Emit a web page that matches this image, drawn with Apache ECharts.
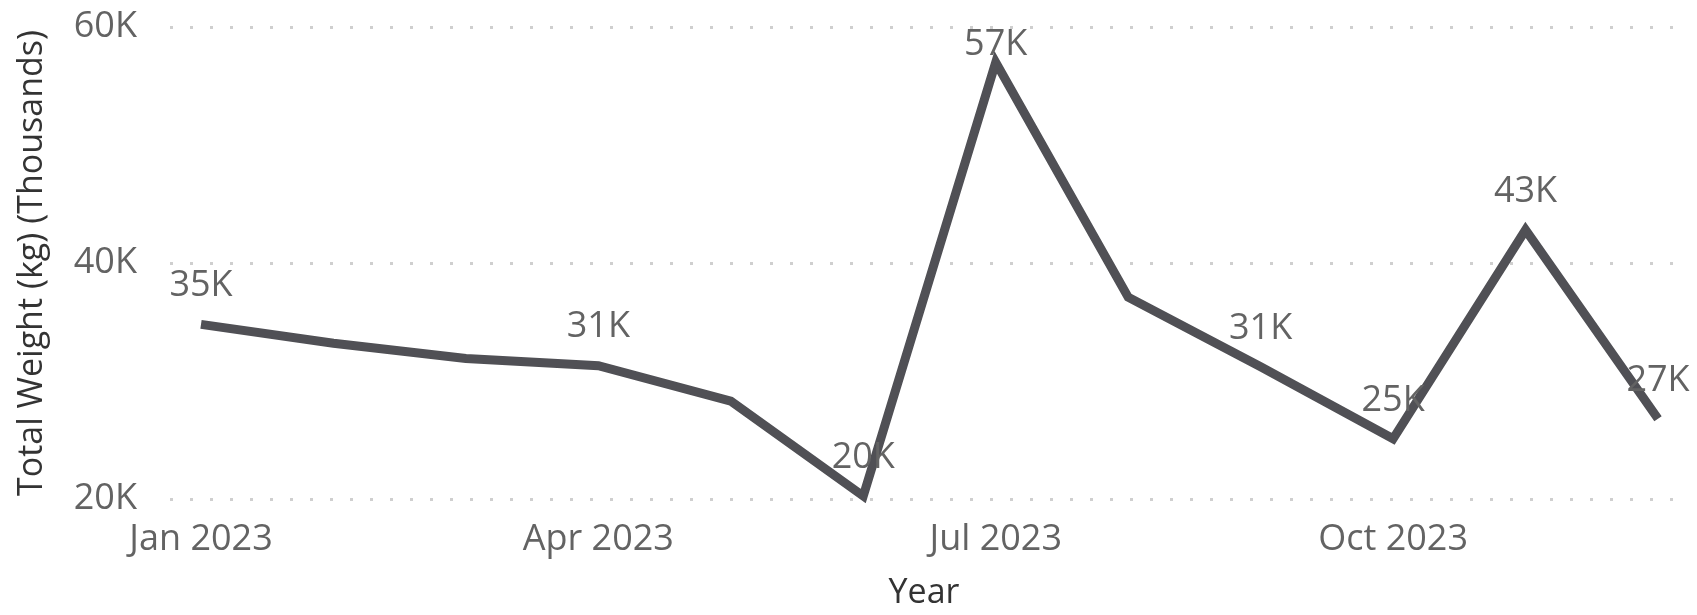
<!DOCTYPE html>
<html>
<head>
<meta charset="utf-8">
<title>Total Weight by Month</title>
<script src="https://cdn.jsdelivr.net/npm/echarts@6/dist/echarts.min.js"></script>
<style>
  html, body { margin: 0; padding: 0; background: #ffffff; }
  #chart { width: 1697px; height: 615px; }
</style>
</head>
<body>
<div id="chart"></div>
<script>
// Monthly totals for 2023, in thousands of kg
const months = ['Jan 2023', 'Feb 2023', 'Mar 2023', 'Apr 2023', 'May 2023', 'Jun 2023',
                'Jul 2023', 'Aug 2023', 'Sep 2023', 'Oct 2023', 'Nov 2023', 'Dec 2023'];
const weightK = [34.8, 33.2, 31.9, 31.3, 28.3, 20.25, 57.0, 37.1, 31.2, 25.1, 42.8, 26.8];
// Months that carry a data label
const labelledMonths = [0, 3, 5, 6, 8, 9, 10, 11];
// Month indices that get an axis tick label
const xTickMonths = [0, 3, 6, 9];
// Value-axis tick values (thousands)
const yTicks = [20, 40, 60];

const FONT = '"Open Sans", "Noto Sans", sans-serif';
const LABEL_GREY = '#636363';

const seriesData = weightK.map((v, i) => {
  const item = { value: [i, v] };
  if (labelledMonths.indexOf(i) < 0) {
    item.label = { show: false };
  } else if (i === 6) {
    // the peak label sits inside the plot, just above the point
    item.label = { distance: -1 };
  }
  return item;
});

const chart = echarts.init(document.getElementById('chart'), null, { renderer: 'canvas' });
chart.setOption({
  backgroundColor: '#ffffff',
  animation: false,
  grid: { left: 170, right: 19, top: 27, bottom: 114, containLabel: false },
  xAxis: {
    type: 'value',
    min: -0.234,
    max: 11.151,
    name: 'Year',
    nameLocation: 'middle',
    nameGap: 77,
    nameTextStyle: { fontFamily: FONT, fontSize: 34, color: '#333333' },
    axisLine: { show: false },
    axisTick: { show: false },
    splitLine: { show: false },
    axisLabel: {
      customValues: xTickMonths,
      formatter: v => months[Math.round(v)],
      fontFamily: FONT,
      fontSize: 36,
      color: LABEL_GREY,
      margin: 23
    }
  },
  yAxis: {
    type: 'value',
    min: yTicks[0],
    max: yTicks[yTicks.length - 1],
    interval: yTicks[1] - yTicks[0],
    name: 'Total Weight (kg) (Thousands)',
    nameLocation: 'middle',
    nameRotate: 90,
    nameGap: 121,
    nameTextStyle: { fontFamily: FONT, fontSize: 34, color: '#333333' },
    axisLine: { show: false },
    axisTick: { show: false },
    axisLabel: {
      formatter: v => v + 'K',
      fontFamily: FONT,
      fontSize: 36,
      color: LABEL_GREY,
      margin: 33
    },
    splitLine: {
      show: true,
      lineStyle: { color: '#cfcfcf', width: 3, type: [3, 17] }
    }
  },
  series: [{
    type: 'line',
    data: seriesData,
    symbol: 'circle',
    symbolSize: 1,
    showSymbol: true,
    itemStyle: { color: 'rgba(0,0,0,0)', borderWidth: 0 },
    lineStyle: { color: '#505055', width: 9, join: 'miter', cap: 'butt' },
    label: {
      show: true,
      position: 'top',
      distance: 20,
      formatter: p => Math.round(p.value[1]) + 'K',
      fontFamily: FONT,
      fontSize: 36,
      color: LABEL_GREY
    },
    emphasis: { disabled: true },
    z: 3
  }]
});
</script>
</body>
</html>
